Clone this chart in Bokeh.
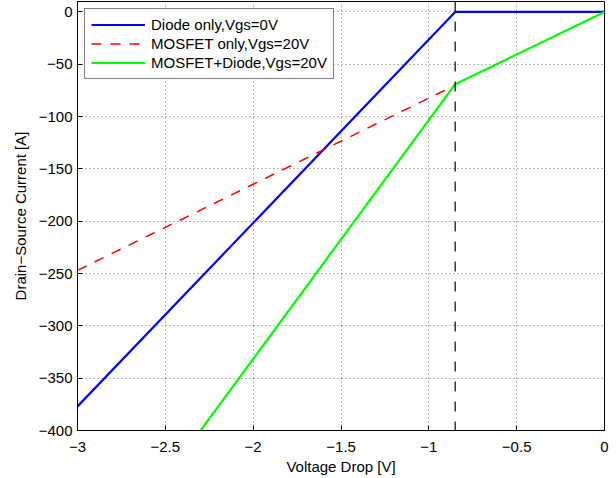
from bokeh.plotting import figure
from bokeh.models import (Range1d, FixedTicker, CustomJSTickFormatter,
                          Span, Legend, LegendItem)
from bokeh.embed import file_html
from bokeh.resources import INLINE

# ---- data ----
v_threshold = -0.85

diode_voltage = [-3.0, -0.85, 0.0]
diode_current = [-377.0, 0.0, 0.0]

mosfet_voltage = [-3.0, -0.85]
mosfet_current = [-247.0, -70.0]

combined_voltage = [-3.0, -0.85, 0.0]
combined_current = [-560.0, -69.0, 0.0]

x_ticks = [-3.0, -2.5, -2.0, -1.5, -1.0, -0.5, 0.0]
y_ticks = [-400, -350, -300, -250, -200, -150, -100, -50, 0]

x_limits = [-3.0, 0.0]
y_limits = [-400.0, 10.0]

FONT = "Liberation Sans"
FS = "15px"

p = figure(frame_width=527, frame_height=429, output_backend="svg",
           toolbar_location=None,
           x_range=Range1d(*x_limits), y_range=Range1d(*y_limits),
           min_border_left=77, min_border_right=10, min_border_top=1,
           min_border_bottom=44,
           x_axis_label="Voltage Drop [V]",
           y_axis_label="Drain\u2212Source Current [A]")

p.background_fill_color = "white"
p.border_fill_color = "white"
p.outline_line_color = "black"
p.outline_line_width = 1

minus_fmt = CustomJSTickFormatter(code="return tick.toString().replace('-', '\\u2212');")

for ax, ticks in ((p.xaxis[0], x_ticks), (p.yaxis[0], y_ticks)):
    ax.ticker = FixedTicker(ticks=ticks)
    ax.formatter = minus_fmt
    ax.major_tick_in = 5
    ax.major_tick_out = 0
    ax.minor_tick_line_color = None
    ax.axis_line_color = "black"
    ax.major_tick_line_color = "black"
    ax.major_label_text_font = FONT
    ax.major_label_text_font_size = FS
    ax.major_label_text_color = "black"
    ax.axis_label_text_font = FONT
    ax.axis_label_text_font_size = FS
    ax.axis_label_text_font_style = "normal"
    ax.axis_label_text_color = "black"

p.xaxis[0].major_label_standoff = 11
p.xaxis[0].axis_label_standoff = 3
p.yaxis[0].major_label_standoff = 5
p.yaxis[0].axis_label_standoff = 7

p.xgrid[0].ticker = FixedTicker(ticks=x_ticks)
p.ygrid[0].ticker = FixedTicker(ticks=y_ticks)
for g in (p.xgrid[0], p.ygrid[0]):
    g.grid_line_color = "#000000"
    g.grid_line_alpha = 0.55
    g.grid_line_dash = "1 3"
    g.grid_line_width = 1

r_diode = p.line(diode_voltage, diode_current, line_color="#0000ff", line_width=2.2)
r_mosfet = p.line(mosfet_voltage, mosfet_current, line_color="#ff0000", line_width=1.5,
                  line_dash="10 9")
r_comb = p.line(combined_voltage, combined_current, line_color="#00ff00", line_width=2.2)

vline = Span(location=v_threshold, dimension="height", line_color="black",
             line_width=1.2, line_dash="10 10")
p.add_layout(vline)

legend = Legend(items=[
    LegendItem(label="Diode only,Vgs=0V", renderers=[r_diode]),
    LegendItem(label="MOSFET only,Vgs=20V", renderers=[r_mosfet]),
    LegendItem(label="MOSFET+Diode,Vgs=20V", renderers=[r_comb]),
], location="top_left")
legend.margin = 7
legend.padding = 6
legend.spacing = 0
legend.label_height = 19
legend.glyph_height = 19
legend.glyph_width = 54
legend.label_standoff = 6
legend.label_text_font = FONT
legend.label_text_font_size = FS
legend.label_text_color = "black"
legend.border_line_color = "black"
legend.border_line_width = 1
legend.background_fill_color = "white"
legend.background_fill_alpha = 1
p.add_layout(legend)

open("out.html", "w").write(file_html(p, INLINE))
